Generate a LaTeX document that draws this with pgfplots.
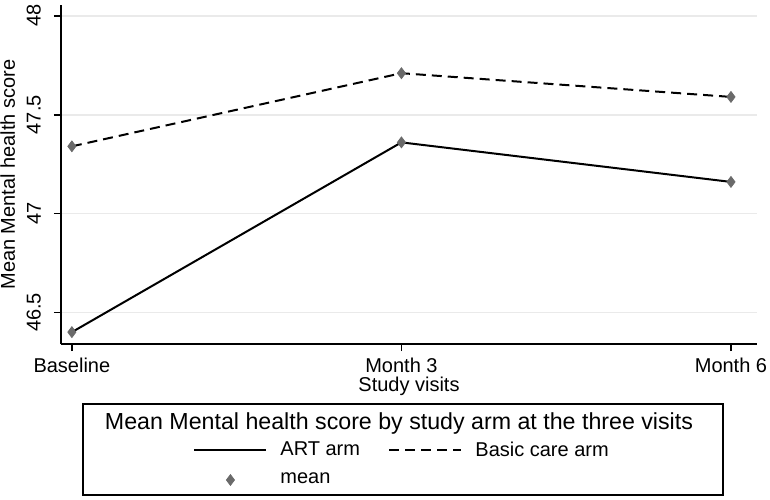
\documentclass[border=0pt]{standalone}
\usepackage{pgfplots}
\pgfplotsset{compat=1.18}
\usepackage{fontspec}
\setmainfont{Liberation Sans}
\definecolor{markgray}{HTML}{6A6A6A}
\definecolor{gridgray}{HTML}{EAEAEA}

\begin{document}
\begin{tikzpicture}
\useasboundingbox (-30.5pt,-77.5pt) rectangle (354.5pt,172pt);
\begin{axis}[
scale only axis,width=348pt,height=169.5pt,
font=\fontsize{10}{12}\selectfont,
/pgf/number format/assume math mode=true,
axis x line*=bottom,axis y line*=left,
axis line style={black,line width=1pt},
tick style={black,line width=0.8pt},tick align=outside,major tick length=3.5pt,
xmin=-0.033,xmax=2.079,ymin=46.34,ymax=48.055,
xtick={0,1,2},xticklabels={Baseline,Month 3,Month 6},
ytick={46.5,47,47.5,48},yticklabels={46.5,47,47.5,48},
yticklabel style={rotate=90,anchor=south,yshift=3pt},
ymajorgrids,grid style={gridgray,line width=0.8pt},
xlabel={Study visits},xlabel style={yshift=4.5pt},
ylabel={Mean Mental health score},ylabel style={yshift=-1pt},
legend columns=2,
legend style={at={(axis description cs:0.1897,-0.275)},anchor=north west,
  draw=none,fill=none,inner sep=0pt,row sep=3pt,cells={anchor=west},
  /tikz/every odd column/.append style={column sep=4.5pt},
  font=\fontsize{10}{12}\selectfont},
legend image code/.code={\draw[#1,mark repeat=2,mark phase=2] plot coordinates {(0pt,0pt) (18pt,0pt) (36pt,0pt)};},
]
\addplot[black,line width=1pt,no marks] coordinates {(0,46.40) (1,47.36) (2,47.16)};
\addlegendentry{\makebox[52pt][l]{ART arm}}
\addplot[black,line width=1pt,dash pattern=on 5pt off 3pt,no marks] coordinates {(0,47.34) (1,47.71) (2,47.59)};
\addlegendentry{Basic care arm}
\addplot[only marks,mark=diamond*,mark size=2.7pt,markgray,mark options={draw=markgray,fill=markgray}] coordinates {(0,46.40) (1,47.36) (2,47.16)};
\addlegendentry{mean}
\addplot[only marks,mark=diamond*,mark size=2.7pt,markgray,mark options={draw=markgray,fill=markgray},forget plot] coordinates {(0,47.34) (1,47.71) (2,47.59)};
\end{axis}
\draw[black,line width=1pt] (11pt,-30pt) rectangle (331pt,-75.5pt);
\node[font=\fontsize{11.6}{14}\selectfont] at (169pt,-39.5pt) {Mean Mental health score by study arm at the three visits};
\end{tikzpicture}
\end{document}
